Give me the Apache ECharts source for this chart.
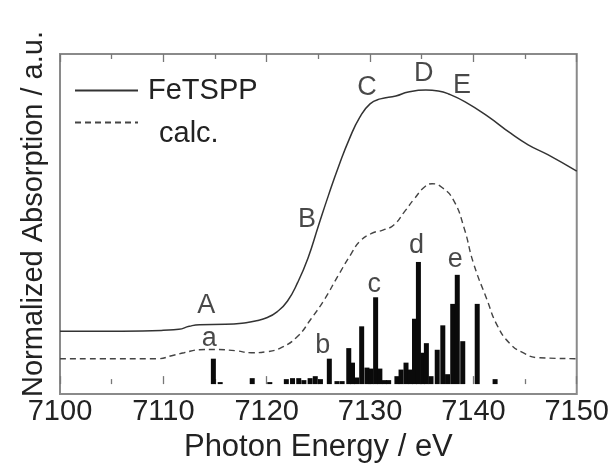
<!DOCTYPE html>
<html>
<head>
<meta charset="utf-8">
<script src="https://cdn.jsdelivr.net/npm/echarts@6/dist/echarts.min.js"></script>
<style>
html,body{margin:0;padding:0;background:#fff;}
#chart{width:612px;height:468px;}
</style>
</head>
<body>
<div id="chart"></div>
<script>
// Measured spectrum (FeTSPP)
var feE = [7100,7104,7108,7110,7111.5,7112.5,7113.5,7116,7118,7119,7120,7121,7122,7123,7124,7125,7126,7127,7128,7129,7130,7131,7132.5,7133.7,7135.4,7136.6,7137.6,7139.2,7141.4,7143.6,7145.3,7147.2,7150];
var feV = [0.160,0.160,0.161,0.163,0.166,0.175,0.180,0.181,0.186,0.192,0.201,0.219,0.251,0.308,0.382,0.479,0.574,0.663,0.743,0.808,0.849,0.864,0.873,0.885,0.891,0.888,0.879,0.855,0.811,0.760,0.725,0.695,0.645];
// Calculated spectrum
var calcE = [7100,7109.5,7110.8,7112,7113.5,7115,7117,7118.5,7120,7121.5,7123,7124.3,7125.6,7126.9,7128.2,7129,7130.1,7131.3,7132.3,7133.3,7134.3,7135.3,7136,7137,7138.1,7139.1,7140,7141.3,7142.3,7143.5,7144.8,7146.3,7150];
var calcV = [0.077,0.077,0.086,0.095,0.104,0.105,0.101,0.095,0.098,0.112,0.145,0.198,0.257,0.328,0.396,0.432,0.456,0.467,0.482,0.521,0.562,0.598,0.607,0.595,0.556,0.473,0.367,0.257,0.178,0.124,0.095,0.080,0.077];
// Stick (transition) spectrum
var stickE = [7114.84,7115.5,7118.6,7120.3,7121.9,7122.5,7123.1,7123.6,7124.2,7124.7,7125.2,7126.06,7126.8,7127.3,7127.94,7128.3,7128.7,7129.19,7129.7,7130.1,7130.54,7130.95,7131.4,7131.8,7132.6,7133.0,7133.48,7133.9,7134.3,7134.68,7135.1,7135.45,7135.9,7136.5,7137.04,7137.5,7138.0,7138.44,7138.97,7140.37,7142.1];
var stickV = [0.077,0.006,0.018,0.006,0.015,0.018,0.018,0.012,0.018,0.024,0.015,0.077,0.009,0.009,0.109,0.065,0.020,0.175,0.050,0.047,0.263,0.047,0.012,0.012,0.024,0.044,0.065,0.044,0.198,0.370,0.095,0.124,0.024,0.104,0.178,0.030,0.243,0.331,0.130,0.243,0.015];
// Peak annotations
var peakNames = ['A','B','C','D','E','a','b','c','d','e'];
var peakE = [7114.16,7123.9,7129.7,7135.2,7138.9,7114.45,7125.43,7130.4,7134.5,7138.25];
var peakV = [0.237,0.500,0.899,0.940,0.905,0.139,0.118,0.302,0.420,0.378];
var xTicks = [7100,7110,7120,7130,7140,7150];

function pairs(a,b){return a.map(function(x,i){return [x,b[i]];});}
var FONT = "'Liberation Sans', Arial, sans-serif";
var chart = echarts.init(document.getElementById('chart'));
var axisCommon = {
  type:'value', min:xTicks[0], max:xTicks[xTicks.length-1], interval:10,
  axisLine:{show:false},
  axisTick:{show:true, inside:true, length:8, lineStyle:{color:'#777', width:1.3}},
  minorTick:{show:true, splitNumber:2, length:5, lineStyle:{color:'#777', width:1.3}},
  splitLine:{show:false}
};
chart.setOption({
  animation:false,
  backgroundColor:'#fff',
  grid:{left:60, right:33, top:54, bottom:66, show:true, borderColor:'#8a8a8a', borderWidth:2},
  xAxis:[
    Object.assign({}, axisCommon, {
      position:'bottom',
      axisLabel:{show:true, color:'#222', fontSize:29, fontFamily:FONT, margin:3,
        formatter:function(v){return String(v);}},
      name:'Photon Energy / eV', nameLocation:'middle', nameGap:38,
      nameTextStyle:{color:'#222', fontSize:31, fontFamily:FONT}
    }),
    Object.assign({}, axisCommon, {position:'top', axisLabel:{show:false}})
  ],
  yAxis:[{
    type:'value', min:-0.03, max:1,
    axisLine:{show:false}, axisTick:{show:false}, axisLabel:{show:false}, splitLine:{show:false},
    name:'Normalized Absorption / a.u.', nameLocation:'middle', nameGap:12,
    nameTextStyle:{color:'#222', fontSize:29, fontFamily:FONT, padding:[0,0,0,20]}
  }],
  legend:[
    {data:['FeTSPP'], left:74, top:76, itemWidth:63, itemHeight:14, padding:0,
     itemStyle:{opacity:0},
     textStyle:{fontSize:29, fontFamily:FONT, color:'#222', padding:[0,0,0,5]}},
    {data:['calc.'], left:74, top:117, itemWidth:63, itemHeight:14, padding:0,
     itemStyle:{opacity:0},
     formatter:'{t|{name}}',
     textStyle:{fontSize:29, fontFamily:FONT, color:'#222',
       rich:{t:{fontSize:29, fontFamily:FONT, color:'#222', padding:[22,0,0,16]}}}}
  ],
  series:[
    {name:'FeTSPP', type:'line', data:pairs(feE,feV), showSymbol:false, symbol:'none',
     smooth:0.5, lineStyle:{color:'#333', width:1.5}, itemStyle:{color:'#333'}},
    {name:'calc.', type:'line', data:pairs(calcE,calcV), showSymbol:false, symbol:'none',
     smooth:0.5, lineStyle:{color:'#444', width:1.4, type:[6,4]}, itemStyle:{color:'#444'}},
    {name:'sticks', type:'bar', data:pairs(stickE,stickV), barWidth:5, itemStyle:{color:'#0a0a0a'}, silent:true},
    {name:'labels', type:'scatter', symbolSize:0, silent:true,
     data:peakNames.map(function(n,i){return {name:n, value:[peakE[i],peakV[i]]};}),
     label:{show:true, position:'inside', formatter:function(p){return p.name;}, fontSize:27, fontFamily:FONT, color:'#1a1a1a'}}
  ]
});
</script>
</body>
</html>
